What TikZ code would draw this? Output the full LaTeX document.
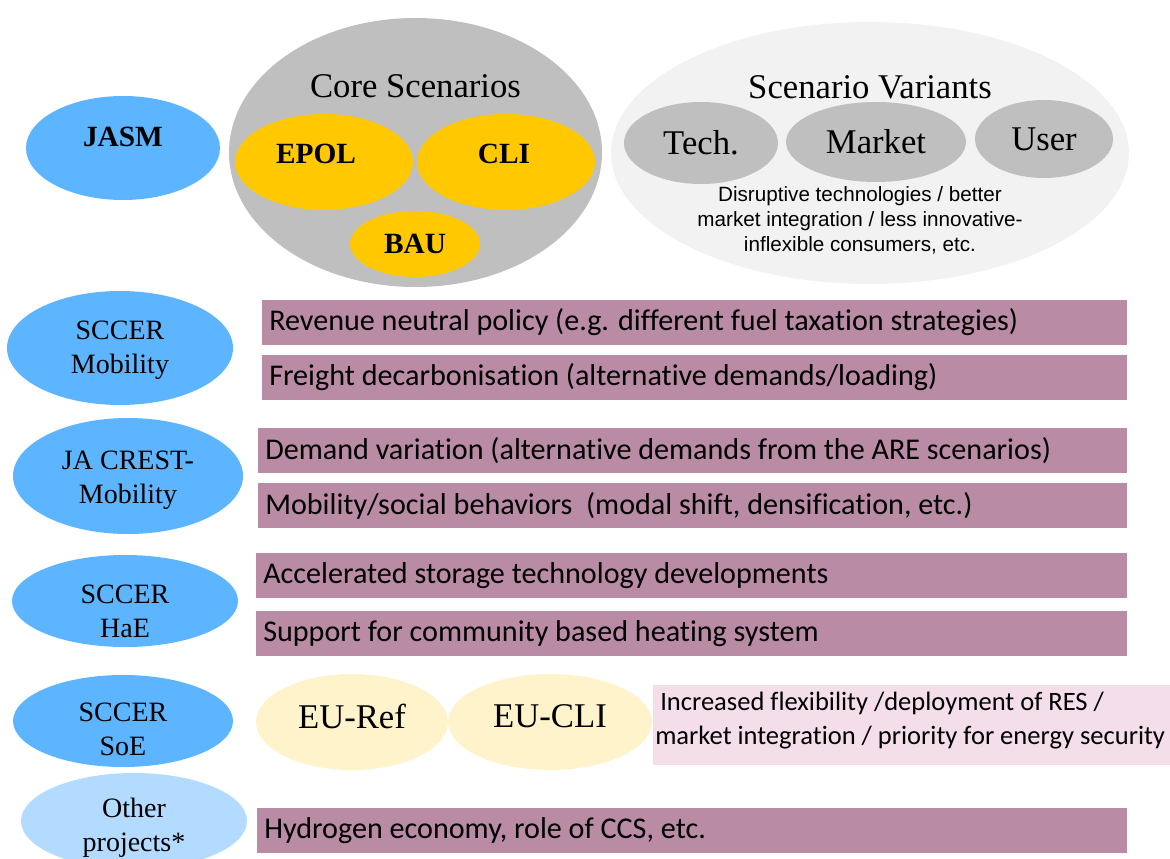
\documentclass[tikz,border=0pt]{standalone}
\usepackage{fontspec}
\setmainfont{Liberation Serif}
\newfontfamily\barfont[Ligatures=NoCommon]{Carlito}
\newfontfamily\notefont{Liberation Sans}
\usepackage{tikz}
\usetikzlibrary{shapes.geometric}
\usepackage{xcolor}
\definecolor{projblue}{HTML}{5EB5FF}
\definecolor{otherblue}{HTML}{B3DBFF}
\definecolor{coregray}{HTML}{BFBFBF}
\definecolor{variantgray}{HTML}{F2F2F2}
\definecolor{coregold}{HTML}{FFC800}
\definecolor{eucream}{HTML}{FFF3CC}
\definecolor{barmauve}{HTML}{BA8BA4}
\definecolor{notepink}{HTML}{F3DEEA}

\begin{document}
\begin{tikzpicture}[x=0.75pt,y=-0.75pt,
  oval/.style 2 args={ellipse,inner sep=0pt,minimum width=#1*1.5pt,minimum height=#2*1.5pt},
  projtxt/.style={align=center,font=\fontsize{21}{25.5}\selectfont},
  keytxt/.style={font=\fontsize{22}{26}\selectfont\bfseries},
  bigtxt/.style={font=\fontsize{26}{30}\selectfont},
  bartxt/.style={anchor=west,inner sep=0pt,font=\barfont\fontsize{22.6}{26}\selectfont},
  notetxt/.style={anchor=west,inner sep=0pt,font=\barfont\fontsize{19.9}{24}\selectfont}]
\useasboundingbox (0,0) rectangle (1170,859);

% scenario ellipses on top
\node[oval={97}{52},fill=projblue] (jasm) at (123,148) {};
\node[keytxt] (jasmlbl) at (123,137) {JASM};
\node[oval={186.5}{134.5},fill=coregray] (core) at (415.5,152.5) {};
\node[bigtxt] (corelbl) at (415.5,86) {Core Scenarios};
\node[oval={89}{48},fill=coregold] (epol) at (324,162) {};
\node[keytxt] (epollbl) at (316,154) {EPOL};
\node[oval={89}{48},fill=coregold] (cli) at (506,162) {};
\node[keytxt] (clilbl) at (504,154) {CLI};
\node[oval={65}{33},fill=coregold,keytxt] (bau) at (415,244) {BAU};

\node[oval={259}{131},fill=variantgray] (variants) at (870,153) {};
\node[bigtxt] (variantlbl) at (870,87) {Scenario Variants};
\node[oval={77}{41},fill=coregray,bigtxt] (tech) at (701,143) {Tech.};
\node[oval={90}{40},fill=coregray,bigtxt] (market) at (876,142) {Market};
\node[oval={69}{39},fill=coregray,bigtxt] (user) at (1044,139) {User};
\node[align=center,font=\notefont\fontsize{15.5}{18.75}\selectfont] (variantnote) at (860,220)
  {Disruptive technologies / better\\market integration / less innovative-\\inflexible consumers, etc.};

% projects on the left, label a little off the centre
\foreach \nm/\cx/\cy/\rx/\ry/\dy/\col/\txt in {
  mob/120/348/113/57/2/projblue/{SCCER\\Mobility},
  crest/128/476/115/58/4/projblue/{JA CREST-\\Mobility},
  hae/125/601/113/46/10/projblue/{SCCER\\HaE},
  soe/123/721/110/46/8/projblue/{SCCER\\SoE},
  other/134/821/113/48/7/otherblue/{Other\\projects*}}{
  \node[oval={\rx}{\ry},fill=\col] (\nm) at (\cx,\cy) {};
  \node[projtxt] (\nm lbl) at (\cx,\cy+\dy) {\txt};
}

% variant bars
\foreach \top/\left/\txt [count=\i] in {
  300/262/{Revenue neutral policy (e.g. different fuel taxation strategies)},
  355/262/{Freight decarbonisation (alternative demands/loading)},
  428/258/{Demand variation (alternative demands from the ARE scenarios)},
  483/258/{Mobility/social behaviors~ (modal shift, densification, etc.)},
  553/256/{Accelerated storage technology developments},
  611/256/{Support for community based heating system},
  808/257/{Hydrogen economy, role of CCS, etc.}}{
  \fill[barmauve] (\left,\top) rectangle (1127,\top+45);
  \node[bartxt] (bar\i) at (\left+7,\top+22.5) {\txt};
}

% EU scenarios
\node[oval={96}{48},fill=eucream] (euref) at (352,722) {};
\node[bigtxt] (eureflbl) at (352,716) {EU-Ref};
\node[oval={102}{48},fill=eucream] (eucli) at (550,722) {};
\node[bigtxt] (euclilbl) at (550,716) {EU-CLI};
\fill[notepink] (653,685) rectangle (1170,765);
\node[notetxt] (eunote1) at (660,703) {Increased flexibility /deployment of RES /};
\node[notetxt] (eunote2) at (655,738) {market integration / priority for energy security};
\end{tikzpicture}
\end{document}
